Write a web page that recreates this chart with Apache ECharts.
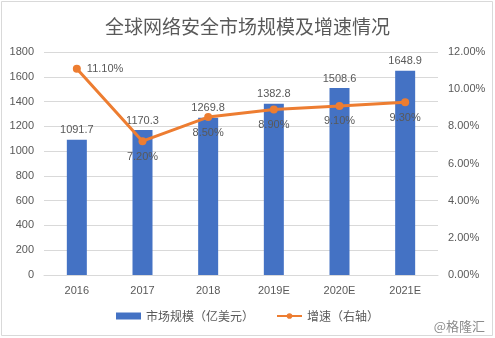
<!DOCTYPE html>
<html><head><meta charset="utf-8">
<script src="https://cdn.jsdelivr.net/npm/echarts@6/dist/echarts.min.js"></script>
<style>html,body{margin:0;padding:0;background:#fff}#c{width:495px;height:338px}</style>
</head><body><div id="c"></div>
<script>
const categories = ['2016','2017','2018','2019E','2020E','2021E'];
const marketSize = [1091.7, 1170.3, 1269.8, 1382.8, 1508.6, 1648.9];
const growthRate = [11.10, 7.20, 8.50, 8.90, 9.10, 9.30];
const leftTicks = {min:0, max:1800, interval:200};
const rightTicks = {min:0, max:12, interval:2};

const chart = echarts.init(document.getElementById('c'), null, {renderer:'canvas'});
const txt = '#595959';
const numFont = '"Liberation Sans", "Noto Sans CJK SC", sans-serif';
chart.setOption({
  animation:false,
  backgroundColor:'#fff',
  title:{text:'全球网络安全市场规模及增速情况', left:'center', top:12,
    textStyle:{color:txt, fontSize:19, fontWeight:'normal', fontFamily:'"Noto Sans CJK SC", sans-serif'}},
  grid:{left:44, right:57, top:52, bottom:63},
  legend:{bottom:11, left:'center', itemGap:22, itemWidth:25, itemHeight:7,
    textStyle:{color:txt, fontSize:12, fontFamily:'"Noto Sans CJK SC", sans-serif'},
    data:[{name:'市场规模（亿美元）', icon:'rect'}, {name:'增速（右轴）'}]},
  xAxis:{type:'category', data:categories,
    axisLine:{lineStyle:{color:'#d9d9d9'}}, axisTick:{show:false},
    axisLabel:{color:txt, fontSize:11, margin:10, fontFamily:numFont}},
  yAxis:[
    {type:'value', min:leftTicks.min, max:leftTicks.max, interval:leftTicks.interval,
     axisLine:{show:false}, axisTick:{show:false},
     splitLine:{lineStyle:{color:'#d9d9d9'}},
     axisLabel:{color:txt, fontSize:11, margin:10, fontFamily:numFont, formatter:v=>String(v)}},
    {type:'value', min:rightTicks.min, max:rightTicks.max, interval:rightTicks.interval,
     axisLine:{show:false}, axisTick:{show:false}, splitLine:{show:false},
     axisLabel:{color:txt, fontSize:11, margin:10, fontFamily:numFont,
       formatter:v=>v.toFixed(2)+'%'}}
  ],
  series:[
    {name:'市场规模（亿美元）', type:'bar', data:marketSize, barWidth:20,
     itemStyle:{color:'#4472C4'},
     label:{show:true, position:'top', color:txt, fontSize:11, fontFamily:numFont, distance:4,
       formatter:p=>p.value.toFixed(1)}},
    {name:'增速（右轴）', type:'line', yAxisIndex:1, data:growthRate.map((v,i)=>({
       value:v, label:{position: i===0 ? 'right' : 'bottom'}})),
     symbol:'circle', symbolSize:8,
     lineStyle:{color:'#ED7D31', width:3}, itemStyle:{color:'#ED7D31'},
     label:{show:true, color:txt, fontSize:11, fontFamily:numFont, distance:6,
       formatter:p=>p.value.toFixed(2)+'%'}}
  ],
  graphic:[
    {type:'rect', shape:{x:1.5, y:1.5, width:491, height:334}, silent:true,
     style:{fill:null, stroke:'#d9d9d9', lineWidth:1}},
    {type:'text', right:10, bottom:5, style:{text:'@格隆汇', fill:'#8c8c8c', fontSize:13,
     fontFamily:'"Noto Sans CJK SC", sans-serif'}}
  ]
});
</script></body></html>
